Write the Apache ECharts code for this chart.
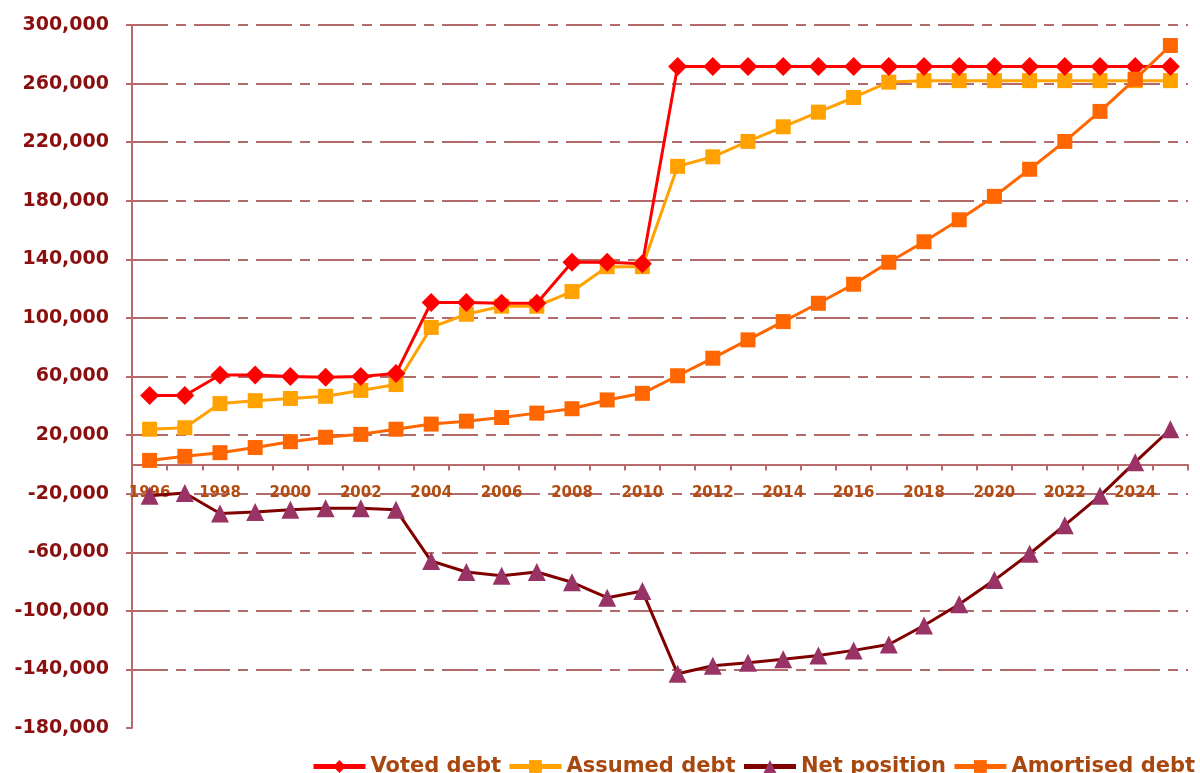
<!DOCTYPE html>
<html><head><meta charset="utf-8">
<script src="https://cdn.jsdelivr.net/npm/echarts@6/dist/echarts.min.js"></script>
<style>html,body{margin:0;padding:0;background:#fff}#c{width:1200px;height:773px}</style>
</head><body><div id="c"></div>
<script>
const years = ['1996','1997','1998','1999','2000','2001','2002','2003','2004','2005','2006','2007','2008','2009','2010','2011','2012','2013','2014','2015','2016','2017','2018','2019','2020','2021','2022','2023','2024','2025'];
const votedDebt = [47000,47000,61000,61000,60000,59500,60000,62000,110500,110500,110000,110000,138000,138000,137000,271700,271700,271700,271700,271700,271700,271700,271700,271700,271700,271700,271700,271700,271700,271700];
const assumedDebt = [24000,25000,41500,43500,45000,46500,50500,54500,93500,102500,108000,108000,118000,135000,135000,203500,210000,220500,230500,240500,250500,261000,262000,262000,262000,262000,262000,262000,262000,262000];
const netPosition = [-21500,-19500,-33500,-32500,-31000,-30000,-30000,-31000,-66000,-73500,-76000,-73500,-80500,-91000,-86500,-143000,-137500,-135500,-133000,-130500,-127000,-123000,-110000,-95500,-79000,-61000,-41500,-21500,1500,24000];
const amortisedDebt = [2700,5500,8000,11500,15500,18500,20500,24000,27500,29500,32000,35000,38000,44000,48500,60500,72500,85000,97500,110000,123000,138000,152000,167000,183000,201500,220500,241000,263000,286000];
const yMin = -180000, yMax = 300000, yStep = 40000;

const chart = echarts.init(document.getElementById('c'));
const brown = '#a8470e';
const axisCol = '#b86a6a';
const font = 'DejaVu Sans';
chart.setOption({
  animation: false,
  grid: {left: 132, right: 12, top: 25, bottom: 45, containLabel: false},
  legend: {
    right: 0, top: 751, itemGap: 6, itemWidth: 52, itemHeight: 16,
    lineStyle: {width: 5},
    textStyle: {color: brown, fontFamily: font, fontWeight: 'bold', fontSize: 21},
    data: ['Voted debt','Assumed debt','Net position','Amortised debt']
  },
  xAxis: {
    type: 'category', data: years, boundaryGap: true,
    axisLine: {onZero: false, lineStyle: {color: axisCol, width: 2}},
    axisTick: {show: true, alignWithLabel: false, interval: 0, length: 6, lineStyle: {color: axisCol, width: 2}},
    axisLabel: {interval: 1, color: '#b24c10', fontFamily: font, fontWeight: 'bold', fontSize: 15, margin: 21},
    splitLine: {show: false}
  },
  yAxis: {
    type: 'value', min: yMin, max: yMax, interval: yStep,
    axisLine: {show: true, lineStyle: {color: axisCol, width: 2}},
    axisTick: {show: true, length: 6, lineStyle: {color: axisCol, width: 2}},
    axisLabel: {color: '#8a0f0f', fontFamily: font, fontWeight: 'bold', fontSize: 19, margin: 23,
      formatter: v => v.toLocaleString('en-US')},
    splitLine: {show: true, showMinLine: false, lineStyle: {color: '#b46a6a', width: 2, type: [36, 8, 10, 8]}}
  },
  series: [
    {name: 'Voted debt', type: 'line', data: votedDebt, symbol: 'diamond', symbolSize: 19,
      lineStyle: {color: '#ff0000', width: 3}, itemStyle: {color: '#ff0000'}, z: 4},
    {name: 'Assumed debt', type: 'line', data: assumedDebt, symbol: 'rect', symbolSize: 15,
      lineStyle: {color: '#ffa200', width: 3}, itemStyle: {color: '#ffa200'}, z: 3},
    {name: 'Net position', type: 'line', data: netPosition, symbol: 'triangle', symbolSize: 18,
      lineStyle: {color: '#800000', width: 3}, itemStyle: {color: '#993366'}, z: 2},
    {name: 'Amortised debt', type: 'line', data: amortisedDebt, symbol: 'rect', symbolSize: 15,
      lineStyle: {color: '#ff6600', width: 3}, itemStyle: {color: '#ff6600'}, z: 5}
  ]
});
// place the category axis (line, ticks and labels) at value 0 via the y scale
const zeroY = chart.convertToPixel({yAxisIndex: 0}, 0);
const bottomY = chart.convertToPixel({yAxisIndex: 0}, yMin);
chart.setOption({xAxis: {offset: -(bottomY - zeroY)}});
</script></body></html>
